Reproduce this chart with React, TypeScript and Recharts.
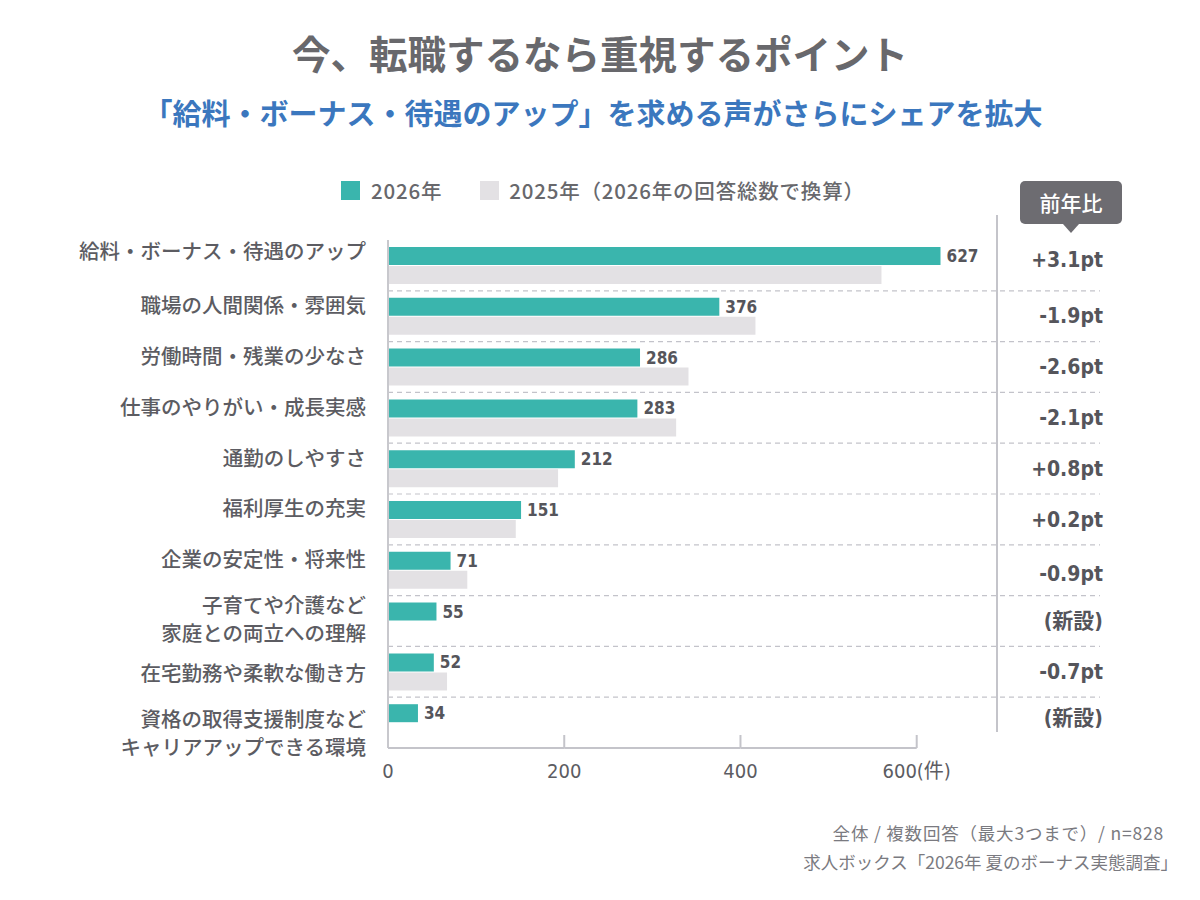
import React from 'react';
import { BarChart, Bar, XAxis, YAxis, CartesianGrid, LabelList } from 'recharts';

const categories = [
  '給料・ボーナス・待遇のアップ',
  '職場の人間関係・雰囲気',
  '労働時間・残業の少なさ',
  '仕事のやりがい・成長実感',
  '通勤のしやすさ',
  '福利厚生の充実',
  '企業の安定性・将来性',
  '子育てや介護など\n家庭との両立への理解',
  '在宅勤務や柔軟な働き方',
  '資格の取得支援制度など\nキャリアアップできる環境',
];
const values2026 = [627, 376, 286, 283, 212, 151, 71, 55, 52, 34];
const values2025: (number | null)[] = [560, 417, 341, 327, 193, 145, 90, null, 67, null];
const diffLabels = ['+3.1pt', '-1.9pt', '-2.6pt', '-2.1pt', '+0.8pt', '+0.2pt', '-0.9pt', '(新設)', '-0.7pt', '(新設)'];
const xTicks = [0, 200, 400, 600];
const X_MAX = 808;

const data = categories.map((name, i) => ({
  name,
  v2026: values2026[i],
  v2025: values2025[i],
  diff: diffLabels[i],
}));

const TEAL = '#3ab5ad';
const GRAY = '#e3e1e4';
const TEXT = '#5c5c62';
const CJK = "'Noto Sans CJK JP', 'Noto Sans', sans-serif";
const NUM = "'DejaVu Sans Condensed', 'Roboto', 'Noto Sans CJK JP', sans-serif";

let prevTickX: number | null = null;

const renderXTick = (props: any) => {
  const { x, y, payload, index } = props;
  const v = payload.value;
  const label = v === 600 ? '600(件)' : String(v);
  const startX = index === 0 ? null : prevTickX;
  prevTickX = x;
  return (
    <g>
      {startX !== null && (
        <line x1={startX} y1={y} x2={x} y2={y} stroke="#c4c4ca" strokeWidth={2} />
      )}
      {index > 0 && <line x1={x} y1={y - 13} x2={x} y2={y} stroke="#c4c4ca" strokeWidth={2} />}
      <text x={x} y={y + 30} textAnchor="middle" fill={TEXT} fontSize={20} fontFamily={NUM}>
        {label}
      </text>
    </g>
  );
};

// vertical placement of the category labels relative to the band centre
const singleOffset = (i: number) => (i === 8 ? 0 : i === 0 ? -15 : -12);
const doubleOffsets = (i: number) => (i === 7 ? [-17, 11] : [-5, 23]);
const diffOffset = (i: number) => (i === 0 ? -6 : i === 6 ? 4 : i === 9 ? -5 : 0);

const renderYTick = (props: any) => {
  const { x, y, payload, index } = props;
  const lines = String(payload.value).split('\n');
  const offsets = lines.length === 1 ? [singleOffset(index)] : doubleOffsets(index);
  return (
    <text
      x={x}
      y={y + offsets[0]}
      textAnchor="end"
      dominantBaseline="central"
      fill={TEXT}
      fontSize={20.5}
      fontWeight={500}
      fontFamily={CJK}
    >
      {lines.map((ln, i) => (
        <tspan key={i} x={x} dy={i === 0 ? 0 : offsets[i] - offsets[i - 1]}>
          {ln}
        </tspan>
      ))}
    </text>
  );
};

const renderDiff = (props: any) => {
  const vb = props.viewBox || props;
  const { x, y, width, height } = vb;
  const idx = props.index;
  const val = values2026[idx];
  if (!val || !width) return null;
  const k = width / val;
  const rightX = x + X_MAX * k;
  return (
    <text
      x={rightX + 3}
      y={y + height + 0.5 + diffOffset(idx)}
      textAnchor="end"
      dominantBaseline="central"
      fill="#55555b"
      fontSize={21}
      fontWeight="bold"
      fontFamily={NUM}
    >
      {diffLabels[idx]}
    </text>
  );
};

const gridGen = (props: any) => {
  const { offset } = props;
  const n = categories.length;
  const band = offset.height / n;
  const out: number[] = [];
  for (let i = 1; i < n; i++) out.push(offset.top + band * i);
  return out;
};

export default function App() {
  prevTickX = null;
  return (
    <div
      style={{
        position: 'absolute',
        left: 0,
        top: 0,
        width: 1200,
        height: 900,
        background: '#ffffff',
        fontFamily: CJK,
        overflow: 'hidden',
      }}
    >
      <div
        style={{
          position: 'absolute',
          top: 24,
          left: 0,
          width: 1200,
          textAlign: 'center',
          fontSize: 38.5,
          fontWeight: 700,
          color: '#68686c',
        }}
      >
        今、転職するなら重視するポイント
      </div>
      <div
        style={{
          position: 'absolute',
          top: 91,
          left: -7,
          width: 1200,
          textAlign: 'center',
          fontSize: 29,
          fontWeight: 700,
          color: '#3b77be',
        }}
      >
        「給料・ボーナス・待遇のアップ」を求める声がさらにシェアを拡大
      </div>

      {/* legend */}
      <div
        style={{
          position: 'absolute',
          top: 175,
          left: 341,
          display: 'flex',
          alignItems: 'center',
          fontSize: 20.5,
          fontWeight: 500,
          color: '#68686c',
          letterSpacing: 0.8,
        }}
      >
        <span style={{ display: 'inline-block', width: 19, height: 19, background: TEAL, marginRight: 11 }} />
        <span>2026年</span>
        <span style={{ display: 'inline-block', width: 19, height: 19, background: GRAY, marginLeft: 38, marginRight: 10 }} />
        <span>2025年（2026年の回答総数で換算）</span>
      </div>

      {/* badge */}
      <div
        style={{
          position: 'absolute',
          top: 181,
          left: 1020,
          width: 102,
          height: 43,
          background: '#6d6c71',
          borderRadius: 5,
          color: '#ffffff',
          fontSize: 21,
          fontWeight: 500,
          textAlign: 'center',
          lineHeight: '43px',
        }}
      >
        前年比
      </div>
      <div
        style={{
          position: 'absolute',
          top: 224,
          left: 1063,
          width: 0,
          height: 0,
          borderLeft: '8px solid transparent',
          borderRight: '8px solid transparent',
          borderTop: '9px solid #6d6c71',
        }}
      />
      {/* divider */}
      <div style={{ position: 'absolute', top: 215, left: 996, width: 2, height: 517, background: '#c4c4ca' }} />

      <div style={{ position: 'absolute', left: 0, top: 0 }}>
        <BarChart
          width={1200}
          height={900}
          data={data}
          layout="vertical"
          margin={{ top: 240, right: 100, bottom: 112, left: 0 }}
          barSize={18}
          barGap={1}
        >
          <CartesianGrid
            vertical={false}
            horizontalCoordinatesGenerator={gridGen}
            stroke="#c3c3ca"
            strokeDasharray="5 4"
            strokeWidth={1.2}
          />
          <XAxis
            type="number"
            domain={[0, X_MAX]}
            ticks={xTicks}
            interval={0}
            axisLine={false}
            tickLine={false}
            tickSize={0}
            tickMargin={0}
            height={40}
            tick={renderXTick}
          />
          <YAxis
            type="category"
            dataKey="name"
            width={388}
            interval={0}
            axisLine={{ stroke: '#c8c8cd', strokeWidth: 2 }}
            tickLine={false}
            tickSize={0}
            tickMargin={22}
            tick={renderYTick}
          />
          <Bar dataKey="v2026" fill={TEAL} isAnimationActive={false}>
            <LabelList
              dataKey="v2026"
              position="right"
              offset={6}
              fill="#55555b"
              fontSize={17}
              fontWeight="bold"
              fontFamily={NUM}
            />
            <LabelList dataKey="diff" content={renderDiff} />
          </Bar>
          <Bar dataKey="v2025" fill={GRAY} isAnimationActive={false} />
        </BarChart>
      </div>

      {/* footnotes */}
      <div style={{ position: 'absolute', top: 820, right: 36, fontSize: 17.5, color: '#7a7a80', textAlign: 'right', letterSpacing: 0.8 }}>
        全体 / 複数回答（最大3つまで）/ n=828
      </div>
      <div style={{ position: 'absolute', top: 849, right: 22, fontSize: 17.5, color: '#7a7a80', textAlign: 'right' }}>
        求人ボックス「2026年 夏のボーナス実態調査」
      </div>
    </div>
  );
}
